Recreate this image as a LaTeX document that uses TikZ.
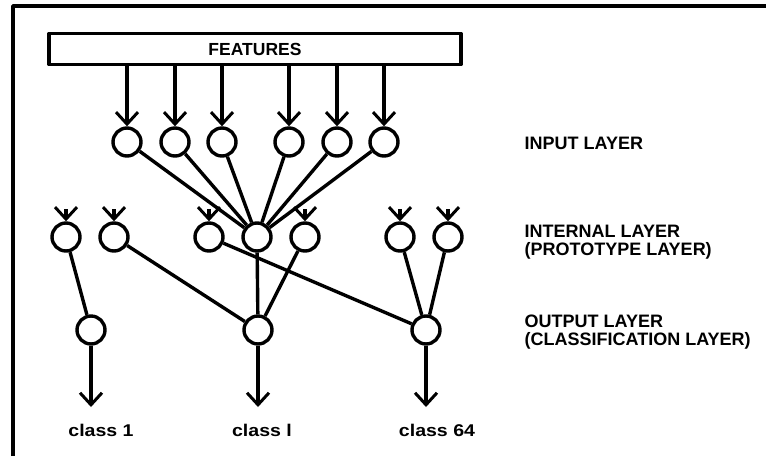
\documentclass[tikz,border=0pt]{standalone}
\usepackage{fontspec}
\setmainfont{Liberation Sans}
\newfontfamily\widefont[FakeStretch=1.15]{Liberation Sans}
\usetikzlibrary{arrows.meta}

\tikzset{
  neuron/.style={circle, draw, minimum size=28pt, inner sep=0pt},
  feed/.style={-{Straight Barb[length=12pt,width=22pt,line width=3pt]}},
  layerlabel/.style={font=\fontsize{18}{18.5}\selectfont\bfseries, align=left, anchor=west, inner sep=0pt},
  classlabel/.style={font=\widefont\fontsize{17}{18}\selectfont\bfseries, inner sep=0pt},
}

\begin{document}
\begin{tikzpicture}[x=1pt, y=-1pt, line width=3.4pt, line join=round]
\useasboundingbox (0,0) rectangle (766,456);

% outer frame (open towards right and bottom)
\draw (13,456) -- (13,6) -- (766,6);

% feature vector
\node[draw, minimum width=412pt, minimum height=31pt, inner sep=0pt,
      font=\fontsize{17.5}{18}\selectfont\bfseries] (feat) at (255,49) {FEATURES};

% input layer
\foreach \n/\x in {1/127, 2/175, 3/222, 4/289, 5/337, 6/384}
  \node[neuron] (in\n) at (\x,142) {};

% internal (prototype) layer
\foreach \n/\x in {1/66, 2/114, 3/209, 4/257, 5/305, 6/400, 7/448}
  \node[neuron] (pr\n) at (\x,237) {};

% output (classification) layer
\foreach \n/\x in {1/91, 2/258, 3/426}
  \node[neuron] (out\n) at (\x,330) {};

% class arrow ends
\coordinate (c1) at (91,407);
\coordinate (c2) at (258,407);
\coordinate (c3) at (426,407);

% features feed every input unit
\foreach \n in {1,...,6}
  \draw[feed] (feat.south -| in\n) -- (in\n.north);

% all input units feed one prototype unit
\foreach \n in {1,...,6}
  \draw (in\n) -- (pr4);

% incoming stubs on the other prototype units
\foreach \n in {1,2,3,5,6,7}
  \draw[feed] ([yshift=12pt]pr\n.north) -- (pr\n.north);

% prototype to class connections
\draw (pr1) -- (out1);
\draw (pr2) -- (out2);
\draw (pr4) -- (out2);
\draw (pr5) -- (out2);
\draw (pr3) -- (out3);
\draw (pr6) -- (out3);
\draw (pr7) -- (out3);

% class outputs
\draw[feed] (out1) -- (c1);
\draw[feed] (out2) -- (c2);
\draw[feed] (out3) -- (c3);

\node[classlabel] (l1) at (101,430) {class 1};
\node[classlabel] (l2) at (262,430) {class l};
\node[classlabel] (l3) at (437,430) {class 64};

% layer names
\node[layerlabel] (lin) at (523,143) {INPUT LAYER};
\node[layerlabel] (lpr) at (523,242) {INTERNAL LAYER\\(PROTOTYPE LAYER)};
\node[layerlabel] (lout) at (523,332) {OUTPUT LAYER\\(CLASSIFICATION LAYER)};
\end{tikzpicture}
\end{document}
